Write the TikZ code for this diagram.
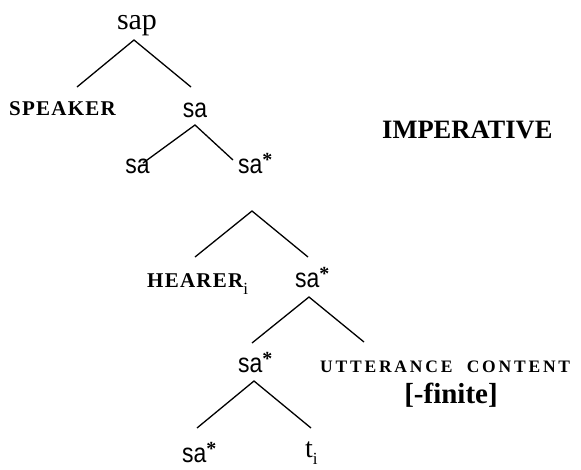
\documentclass[tikz,border=0pt]{standalone}
\usepackage{fontspec}
\setmainfont{Liberation Serif}
\setsansfont[FakeStretch=0.85]{Liberation Sans}
\newfontfamily\spacedserif[LetterSpace=6]{Liberation Serif}
\newfontfamily\widespaced[LetterSpace=16,WordSpace=2]{Liberation Serif}
\newcommand{\starmark}{\raisebox{7pt}{\rmfamily\bfseries\fontsize{20}{20}\selectfont *}}
\newcommand{\subi}{\raisebox{-7pt}{\rmfamily\mdseries\fontsize{17}{17}\selectfont i}}
\begin{document}
\begin{tikzpicture}[x=1pt,y=-1pt,
  branch/.style={line width=1.3pt},
  cat/.style={inner sep=0pt,anchor=base,font=\sffamily\fontsize{27}{30}\selectfont},
  catw/.style={inner sep=0pt,anchor=base west,font=\sffamily\fontsize{27}{30}\selectfont},
  role/.style={inner sep=0pt,font=\spacedserif\bfseries\fontsize{21}{24}\selectfont},
  big/.style={inner sep=0pt,anchor=base,font=\bfseries\fontsize{29}{33}\selectfont}]
\useasboundingbox (0,0) rectangle (581,469);
% labels
\node[inner sep=0pt,anchor=base,font=\fontsize{30}{34}\selectfont] (sap) at (137,29) {sap};
\node[role,anchor=base] (speaker) at (62.5,115) {SPEAKER};
\node[cat] (sa1) at (195,117) {sa};
\node[cat] (sa2) at (137.5,173) {sa};
\node[catw] (sas1) at (238,173) {sa\starmark};
\node[role,anchor=base west] (hearer) at (147,287) {HEARER\subi};
\node[catw] (sas2) at (295,287) {sa\starmark};
\node[catw] (sas3) at (238,372) {sa\starmark};
\node[inner sep=0pt,anchor=base west,font=\widespaced\bfseries\fontsize{17.5}{20}\selectfont] (utt) at (320,372) {UTTERANCE CONTENT};
\node[big] (fin) at (451,403) {[-finite]};
\node[catw] (sas4) at (182,462) {sa\starmark};
\node[inner sep=0pt,anchor=base west,font=\fontsize{28}{30}\selectfont] (ti) at (305,457) {t\subi};
\node[big,anchor=base west,font=\bfseries\fontsize{26.5}{30}\selectfont] (imp) at (382,138) {IMPERATIVE};
% apex coordinates
\coordinate (a1) at (134,40);
\coordinate (a1l) at (77,87);
\coordinate (a1r) at (191,87);
\coordinate (a2) at (195,125);
\coordinate (a2l) at (143,163);
\coordinate (a2r) at (233,160);
\coordinate (a3) at (252,211);
\coordinate (a3l) at (195,257);
\coordinate (a3r) at (308,257);
\coordinate (a4) at (309,297);
\coordinate (a4l) at (252,343);
\coordinate (a4r) at (364,342);
\coordinate (a5) at (254,381);
\coordinate (a5l) at (197,428);
\coordinate (a5r) at (311,428);
\draw[branch] (a1l) -- (a1) -- (a1r);
\draw[branch] (a2l) -- (a2) -- (a2r);
\draw[branch] (a3l) -- (a3) -- (a3r);
\draw[branch] (a4l) -- (a4) -- (a4r);
\draw[branch] (a5l) -- (a5) -- (a5r);
\end{tikzpicture}
\end{document}
